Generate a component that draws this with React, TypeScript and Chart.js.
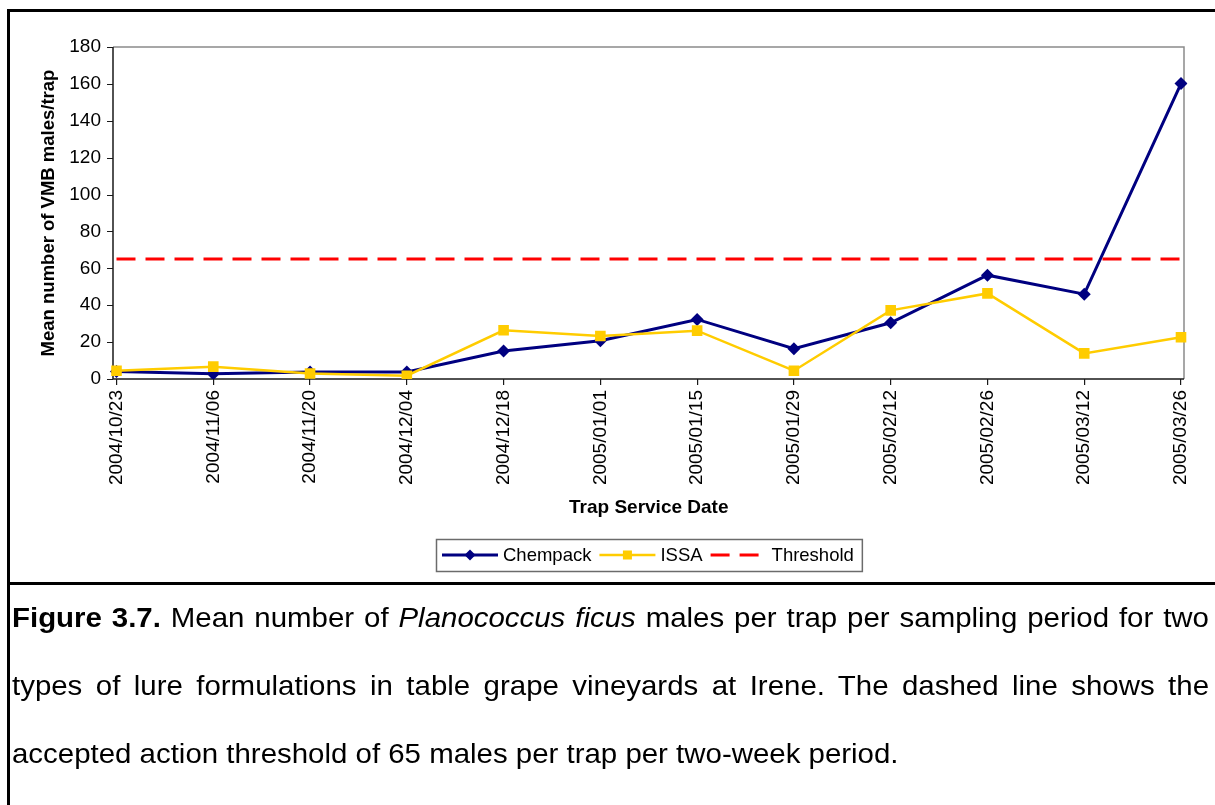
import React, { useEffect, useRef } from "react";
import { Chart, registerables } from "chart.js";

Chart.register(...registerables);

// ---- data ----
const dates = [
  "2004/10/23",
  "2004/11/06",
  "2004/11/20",
  "2004/12/04",
  "2004/12/18",
  "2005/01/01",
  "2005/01/15",
  "2005/01/29",
  "2005/02/12",
  "2005/02/26",
  "2005/03/12",
  "2005/03/26",
];
const chempack = [4, 2.8, 3.8, 3.8, 15.2, 20.7, 32.3, 16.4, 30.5, 56.3, 46, 160.2];
const issa = [4.5, 6.7, 3.0, 1.8, 26.4, 23.3, 26.2, 4.5, 37.2, 46.4, 13.9, 22.6];
const thresholdValue = 65;
const threshold = dates.map(() => thresholdValue);
const yMin = 0;
const yMax = 180;
const yStep = 20;

const FONT = '"Liberation Sans", Arial, Helvetica, sans-serif';

const framePlugin = {
  id: "frame",
  beforeDatasetsDraw(chart: any) {
    const { ctx, chartArea, scales } = chart;
    const left = chartArea.left - 3.5;
    const right = chartArea.right + 3;
    const top = chartArea.top;
    const bottom = chartArea.bottom;
    ctx.save();
    ctx.strokeStyle = "#8a8a8a";
    ctx.lineWidth = 1.5;
    ctx.beginPath();
    ctx.moveTo(left, top);
    ctx.lineTo(right, top);
    ctx.lineTo(right, bottom);
    ctx.stroke();
    ctx.strokeStyle = "#1a1a1a";
    ctx.lineWidth = 1.5;
    ctx.beginPath();
    ctx.moveTo(left, top);
    ctx.lineTo(left, bottom);
    ctx.lineTo(right, bottom);
    ctx.stroke();
    const y = scales.y;
    ctx.lineWidth = 1.2;
    ctx.beginPath();
    for (const t of y.ticks) {
      const py = Math.round(y.getPixelForValue(t.value)) + 0.5;
      ctx.moveTo(left - 6, py);
      ctx.lineTo(left, py);
    }
    ctx.stroke();
    ctx.restore();
  },
};

const legendPlugin = {
  id: "boxLegend",
  afterDraw(chart: any) {
    const { ctx, chartArea } = chart;
    const datasets = chart.data.datasets;
    ctx.save();
    ctx.font = `18.5px ${FONT}`;
    const sample = 56;
    const gapText = 5;
    const gapItem = 8;
    const padL = 6;
    const padR = 8;
    const widths = datasets.map((ds: any) => ctx.measureText(ds.label).width);
    let total = padL + padR + gapItem * (datasets.length - 1);
    widths.forEach((w: number) => (total += sample + gapText + w));
    const cx = (chartArea.left + chartArea.right) / 2;
    const x0 = Math.round(cx - total / 2);
    const top = 539;
    const h = 32;
    const cy = top + h / 2;
    ctx.strokeStyle = "#6b6b6b";
    ctx.lineWidth = 1.5;
    ctx.strokeRect(x0 + 0.5, top + 0.5, total, h);
    let x = x0 + padL;
    datasets.forEach((ds: any, i: number) => {
      ctx.save();
      ctx.strokeStyle = ds.borderColor;
      ctx.lineWidth = ds.borderWidth;
      ctx.setLineDash(ds.borderDash || []);
      ctx.beginPath();
      ctx.moveTo(x, cy);
      ctx.lineTo(x + sample, cy);
      ctx.stroke();
      ctx.setLineDash([]);
      const mx = x + sample / 2;
      const r = (ds.pointRadius || 0) * 0.85;
      if (r > 0) {
        ctx.fillStyle = ds.pointBackgroundColor;
        ctx.beginPath();
        if (ds.pointStyle === "rectRot") {
          ctx.moveTo(mx, cy - r);
          ctx.lineTo(mx + r, cy);
          ctx.lineTo(mx, cy + r);
          ctx.lineTo(mx - r, cy);
          ctx.closePath();
        } else {
          const s = r * Math.SQRT1_2;
          ctx.rect(mx - s, cy - s, 2 * s, 2 * s);
        }
        ctx.fill();
      }
      ctx.restore();
      ctx.fillStyle = "#000";
      ctx.textBaseline = "middle";
      ctx.textAlign = "left";
      ctx.fillText(ds.label, x + sample + gapText, cy + 1);
      x += sample + gapText + widths[i] + gapItem;
    });
    ctx.restore();
  },
};

function ChartView() {
  const ref = useRef<HTMLCanvasElement | null>(null);
  useEffect(() => {
    if (!ref.current) return;
    const chart = new Chart(ref.current, {
      type: "line",
      data: {
        labels: dates,
        datasets: [
          {
            label: "Chempack",
            data: chempack,
            borderColor: "#000080",
            backgroundColor: "#000080",
            pointBackgroundColor: "#000080",
            pointBorderColor: "#000080",
            borderWidth: 3,
            pointStyle: "rectRot",
            pointRadius: 6.5,
            pointBorderWidth: 0,
            tension: 0,
            order: 3,
          },
          {
            label: "ISSA",
            data: issa,
            borderColor: "#FFCC00",
            backgroundColor: "#FFCC00",
            pointBackgroundColor: "#FFCC00",
            pointBorderColor: "#FFCC00",
            borderWidth: 2.5,
            pointStyle: "rect",
            pointRadius: 7.5,
            pointBorderWidth: 0,
            tension: 0,
            order: 2,
          },
          {
            label: "Threshold",
            data: threshold,
            borderColor: "#FF0000",
            backgroundColor: "#FF0000",
            borderWidth: 3,
            borderDash: [19, 10],
            pointRadius: 0,
            tension: 0,
            order: 1,
          },
        ] as any,
      },
      options: {
        animation: false,
        responsive: false,
        devicePixelRatio: 1,
        layout: { padding: { top: 47, left: 0, right: 34, bottom: 0 } },
        plugins: {
          legend: { display: false },
          tooltip: { enabled: false },
        },
        scales: {
          x: {
            type: "category",
            offset: false,
            border: { display: false },
            grid: {
              display: true,
              drawOnChartArea: false,
              drawTicks: true,
              tickLength: 6,
              color: "#1a1a1a",
              lineWidth: 1.2,
            },
            ticks: {
              autoSkip: false,
              minRotation: 90,
              maxRotation: 90,
              padding: 5,
              color: "#000",
              font: { family: FONT, size: 19 },
            },
            title: {
              display: true,
              text: "Trap Service Date",
              color: "#000",
              font: { family: FONT, size: 19, weight: "bold" },
              padding: { top: 0, bottom: 63.6 },
            },
            afterFit(scale: any) {
              scale.height = 204;
            },
          },
          y: {
            min: yMin,
            max: yMax,
            border: { display: false },
            grid: { display: false, drawTicks: false },
            ticks: {
              stepSize: yStep,
              padding: 15.5,
              color: "#000",
              font: { family: FONT, size: 19 },
            },
            title: {
              display: true,
              text: "Mean number of VMB males/trap",
              color: "#000",
              font: { family: FONT, size: 18.5, weight: "bold" },
              padding: { top: 38, bottom: 0 },
            },
            afterFit(scale: any) {
              scale.width = 116.5;
            },
          },
        },
      } as any,
      plugins: [framePlugin, legendPlugin],
    });
    return () => chart.destroy();
  }, []);
  return (
    <canvas
      ref={ref}
      width={1215}
      height={583}
      style={{ position: "absolute", left: 0, top: 0, width: 1215, height: 583, display: "block" }}
    />
  );
}

const SCALE_X = 1.07;
const CAPTION_WIDTH = 1197;

const lineStyle = (justify: boolean): React.CSSProperties => ({
  textAlign: justify ? "justify" : "left",
  textAlignLast: justify ? "justify" : "left",
  whiteSpace: "nowrap",
  height: 68,
});

export default function App() {
  return (
    <div
      style={{
        position: "fixed",
        left: 0,
        top: 0,
        width: 1215,
        height: 805,
        background: "#fff",
        overflow: "hidden",
      }}
    >
      <ChartView />
      <div style={{ position: "absolute", left: 7, top: 9, width: 3, height: 800, background: "#000" }} />
      <div style={{ position: "absolute", left: 7, top: 9, width: 1210, height: 3, background: "#000" }} />
      <div style={{ position: "absolute", left: 7, top: 582, width: 1210, height: 3, background: "#000" }} />
      <div
        style={{
          position: "absolute",
          left: 12,
          top: 584,
          width: CAPTION_WIDTH / SCALE_X,
          transform: `scaleX(${SCALE_X})`,
          transformOrigin: "0 0",
          fontFamily: FONT,
          fontSize: 27.5,
          lineHeight: "68px",
          color: "#000",
        }}
      >
        <div style={lineStyle(true)}>
          <b>Figure 3.7.</b> Mean number of <i>Planococcus ficus</i> males per trap per sampling period for two
        </div>
        <div style={lineStyle(true)}>
          types of lure formulations in table grape vineyards at Irene. The dashed line shows the
        </div>
        <div style={lineStyle(false)}>accepted action threshold of 65 males per trap per two-week period.</div>
      </div>
    </div>
  );
}
